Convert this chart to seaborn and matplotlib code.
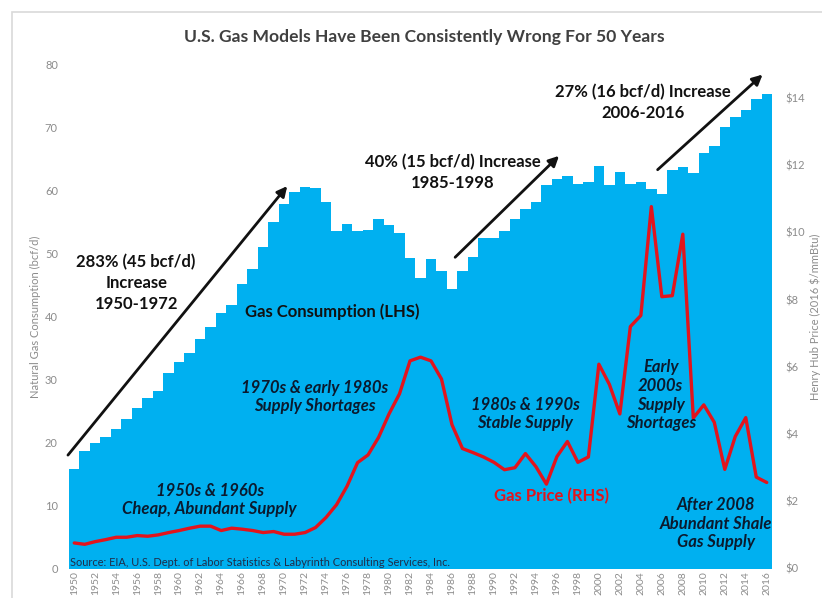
import matplotlib
matplotlib.use("Agg")
import matplotlib.pyplot as plt
import seaborn as sns
import numpy as np
from matplotlib.patches import Rectangle

years = list(range(1950, 2017))
consumption = [15.8, 18.7, 20.0, 20.9, 22.1, 23.8, 25.5, 27.0, 28.2, 31.0,
               32.8, 34.2, 36.4, 38.3, 40.6, 41.9, 45.1, 47.6, 51.0, 55.0,
               57.9, 59.7, 60.5, 60.4, 58.1, 53.5, 54.7, 53.5, 53.8, 55.5,
               54.5, 53.2, 49.3, 46.1, 49.2, 47.3, 44.4, 47.2, 49.4, 52.4,
               52.5, 53.6, 55.4, 57.0, 58.2, 60.8, 61.9, 62.3, 61.0, 61.4,
               63.9, 60.9, 63.0, 61.0, 61.4, 60.3, 59.5, 63.3, 63.8, 62.8,
               66.0, 67.1, 70.0, 71.7, 72.8, 74.6, 75.3]
price = [0.76, 0.72, 0.80, 0.86, 0.93, 0.93, 0.98, 0.96, 1.00, 1.07,
         1.13, 1.20, 1.26, 1.26, 1.13, 1.20, 1.17, 1.13, 1.07, 1.10,
         1.02, 1.02, 1.07, 1.22, 1.52, 1.90, 2.45, 3.15, 3.38, 3.90,
         4.60, 5.20, 6.18, 6.29, 6.18, 5.64, 4.28, 3.57, 3.45, 3.32,
         3.16, 2.94, 3.00, 3.42, 3.03, 2.51, 3.33, 3.78, 3.16, 3.32,
         6.08, 5.48, 4.60, 7.20, 7.53, 10.77, 8.09, 8.12, 9.95, 4.48,
         4.87, 4.35, 2.95, 3.93, 4.49, 2.72, 2.56]
left_ticks = [0, 10, 20, 30, 40, 50, 60, 70, 80]
right_ticks = [0, 2, 4, 6, 8, 10, 12, 14]
right_labels = ["$0", "$2", "$4", "$6", "$8", "$10", "$12", "$14"]
xtick_years = list(range(1950, 2017, 2))

title = "U.S. Gas Models Have Been Consistently Wrong For 50 Years"

sns.set_style("white")
plt.rcParams['font.family'] = ['Lato', 'DejaVu Sans']

BLUE = "#00b0f0"
RED = "#e3141c"
GRAY = "#8c8c8c"
INK = "#111111"
NAVY = "#0b1a2e"

fig = plt.figure(figsize=(8.22, 5.98), dpi=100)
ax = fig.add_axes([69 / 822, 1 - 568.5 / 598, (772 - 69) / 822, (568.5 - 64.5) / 598])
ax2 = ax.twinx()

sns.barplot(x=years, y=consumption, native_scale=True, width=1.0, color=BLUE,
            saturation=1, linewidth=0, ax=ax)
sns.lineplot(x=years, y=price, color=RED, linewidth=2.4, ax=ax2)

ax.set_xlim(1949.5, 2016.5)
ax.set_ylim(0, 80)
ax2.set_ylim(0, 15)
ax.set_yticks(left_ticks)
ax.set_yticklabels([str(t) for t in left_ticks])
ax2.set_yticks(right_ticks)
ax2.set_yticklabels(right_labels)
ax.set_xticks(xtick_years)
ax.set_xticklabels([str(y) for y in xtick_years], rotation=90)

for a in (ax, ax2):
    for s in a.spines.values():
        s.set_visible(False)
    a.tick_params(length=0, colors=GRAY, labelsize=8)
    a.set_xlabel("")
ax.tick_params(axis='y', pad=8)
ax2.tick_params(axis='y', pad=10)
ax.tick_params(axis='x', pad=2, labelsize=7.5)
ax.set_ylabel("Natural Gas Consumption (bcf/d)", color=GRAY, fontsize=8, labelpad=3)
ax2.set_ylabel("Henry Hub Price (2016 $/mmBtu)", color=GRAY, fontsize=8, labelpad=3)

fig.text(424 / 822, 1 - 37 / 598, title, ha='center', va='center',
         fontsize=12.6, fontweight='bold', color="#404040")

# figure frame
fig.patches.append(Rectangle((12 / 822, -0.1), 1.2, 1 - 12 / 598 + 0.1,
                             transform=fig.transFigure, fill=False,
                             edgecolor="#d9d9d9", linewidth=1.2))

tr = ax.transData

def arrow(x0, y0, x1, y1):
    ax2.annotate("", xy=(x1, y1), xytext=(x0, y0), xycoords=tr, textcoords=tr,
                 arrowprops=dict(arrowstyle="-|>,head_length=0.6,head_width=0.3",
                                 color=INK, lw=2.0, shrinkA=0, shrinkB=0))

arrow(1949.4, 18.0, 1970.3, 60.7)
arrow(1986.3, 49.4, 1996.2, 65.5)
arrow(2005.6, 63.3, 2015.6, 78.4)

def label(x, y, s, color=INK, style='normal', size=12, weight='bold', ls=1.2):
    ax2.text(x, y, s, transform=tr, ha='center', va='center', color=color,
             fontsize=size, fontweight=weight, fontstyle=style, linespacing=ls)

label(1955.9, 45.3, "283% (45 bcf/d)\nIncrease\n1950-1972", ls=1.35)
label(1986.1, 62.9, "40% (15 bcf/d) Increase\n1985-1998", ls=1.35)
label(2004.2, 74.0, "27% (16 bcf/d) Increase\n2006-2016", ls=1.35)
label(1974.6, 40.7, "Gas Consumption (LHS)", color=INK)
label(1972.9, 27.2, "1970s & early 1980s\nSupply Shortages", color=NAVY, style='italic')
label(1962.9, 10.9, "1950s & 1960s\nCheap, Abundant Supply", color=NAVY, style='italic')
label(1993.0, 24.5, "1980s & 1990s\nStable Supply", color=NAVY, style='italic')
label(1995.5, 11.5, "Gas Price (RHS)", color=RED)
label(2005.9, 27.5, "Early\n2000s\nSupply\nShortages", color=NAVY, style='italic')
label(2011.2, 7.1, "After 2008\nAbundant Shale\nGas Supply", color=NAVY, style='italic')
ax2.text(1949.6, 1.0, "Source: EIA, U.S. Dept. of Labor Statistics & Labyrinth Consulting Services, Inc.",
         transform=tr, ha='left', va='center', color="#1f2d4a", fontsize=7.9)

fig.savefig("out.png", dpi=100)
